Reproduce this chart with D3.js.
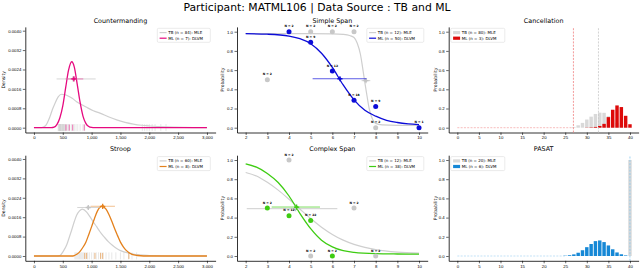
<!DOCTYPE html>
<html>
<head>
<meta charset="utf-8">
<script src="https://cdn.jsdelivr.net/npm/d3@7"></script>
<style>
body { margin: 0; background: #fff; }
svg { font-family: "DejaVu Sans", sans-serif; }
svg text { fill: #000; }
.tick text { font-size: 4.3px; fill: #000; }
.tick line { stroke: #000; stroke-width: 0.6; }
.domain { stroke: #000; stroke-width: 0.8; }
</style>
</head>
<body>
<svg id="chart"></svg>
<script>
// ---- data ----
// Countermanding (density of RT)
const cmTbCurve = [[0,0],[130,0],[200,0.00008],[277,0.00045],[320,0.00075],[364,0.001],[420,0.00127],[480,0.00138],[540,0.00136],[600,0.0013],[670,0.0012],[740,0.00107],[830,0.00095],[914,0.00084],[1030,0.0007],[1145,0.0006],[1290,0.00045],[1434,0.00032],[1580,0.00022],[1722,0.00015],[1870,0.0001],[2011,0.00007],[2300,0.00003],[2600,0.00001],[3000,0]]
const cmMlCurve = [[0,0],[300,0],[350,0.00002],[400,0.00014],[450,0.00041],[500,0.0009],[550,0.00165],[600,0.00237],[655,0.00272],[700,0.0025],[750,0.0018],[800,0.00105],[850,0.00048],[900,0.00018],[950,0.00005],[1000,0.00001],[1050,0],[3000,0]]
const cmTbRug = [420,430,440,445,455,460,470,480,490,500,505,515,525,535,550,560,580,600,620,650,680,700,730,760,800,850,880,1880,1920,1960,2000,2050,2100,2200,2290]
const cmMlRug = [555,612,671,872]
const cmTbSummary = [680, 393, 1070, 0.00201]   // centre, low, high, height
const cmMlSummary = [693, 550, 855, 0.00201]

// Stroop
const stTbCurve = [[0,0],[400,0],[450,0.00002],[510,0.0002],[567,0.00045],[610,0.00075],[653,0.00106],[700,0.00142],[740,0.00168],[790,0.00186],[840,0.00193],[914,0.00181],[970,0.00162],[1030,0.0014],[1090,0.0012],[1145,0.001],[1220,0.00078],[1290,0.00059],[1360,0.00044],[1434,0.00031],[1500,0.00022],[1578,0.00016],[1722,0.00008],[2000,0.00002],[2300,0],[3000,0]]
const stMlCurve = [[0,0],[650,0],[700,0.00002],[750,0.00008],[800,0.00019],[850,0.00036],[900,0.00057],[950,0.00088],[1000,0.00121],[1050,0.00155],[1100,0.00185],[1140,0.002],[1180,0.00205],[1250,0.00193],[1300,0.00171],[1350,0.00143],[1400,0.00112],[1450,0.00084],[1500,0.00057],[1550,0.00038],[1600,0.00023],[1700,0.00007],[1800,0.00002],[1900,0],[3000,0]]
const stTbRug = [710,730,750,770,790,810,830,850,870,900,930,960,1000,1040,1080,1120,1160,1200,1250,1300,1350,1420,1500,1560,1640,1700,1780]
const stMlRug = [880,913,1058,1156,1191,1647]
const stTbSummary = [942, 751, 1145, 0.0020]
const stMlSummary = [1192, 983, 1405, 0.00205]

// Simple Span (probability correct by span length)
const ssTbCurve = [[2,0.98],[3,0.98],[4,0.98],[5,0.98],[6,0.978],[6.5,0.972],[6.8,0.96],[7,0.94],[7.15,0.88],[7.3,0.76],[7.4,0.62],[7.5,0.47],[7.6,0.33],[7.7,0.2],[7.8,0.12],[7.9,0.07],[8,0.045],[8.3,0.03],[9,0.025],[10,0.025]]
const ssMlCurve = [[2,0.979],[3,0.974],[4,0.955],[4.5,0.927],[5,0.875],[5.5,0.776],[6,0.628],[6.5,0.445],[7,0.29],[7.5,0.181],[8,0.12],[8.5,0.077],[9,0.054],[9.5,0.04],[10,0.032]]
const ssTbX = [3, 5, 6, 7, 8]
const ssTbP = [0.5, 1, 1, 1, 0]
const ssTbN = [2, 2, 2, 2, 2]
const ssMlX = [4, 5, 6, 7, 8, 10]
const ssMlP = [1, 0.89, 0.59, 0.285, 0.22, 0]
const ssMlN = [2, 9, 12, 18, 9, 1]
const ssTbSummary = [7.55, 7.35, 7.75, 0.49]
const ssMlSummary = [6.35, 5.09, 7.58, 0.51]

// Complex Span
const csTbCurve = [[2,0.87],[2.5,0.833],[3,0.767],[3.5,0.686],[4,0.591],[4.5,0.49],[5,0.39],[5.5,0.3],[6,0.225],[6.5,0.165],[7,0.121],[7.5,0.089],[8,0.067],[9,0.041],[10,0.029]]
const csMlCurve = [[2,0.96],[2.5,0.925],[3,0.86],[3.5,0.765],[4,0.625],[4.5,0.445],[5,0.285],[5.5,0.165],[6,0.095],[6.5,0.055],[7,0.037],[8,0.024],[9,0.021],[10,0.02]]
const csTbX = [4, 5, 7, 8]
const csTbP = [1, 0, 0.5, 0]
const csTbN = [2, 2, 2, 2]
const csMlX = [3, 4, 5, 6]
const csMlP = [0.5, 0.42, 0.37, 0]
const csMlN = [2, 12, 22, 2]
const csTbSummary = [4.3, 2.05, 6.23, 0.493]
const csMlSummary = [4.35, 3.2, 5.43, 0.51]

// Cancellation (score distribution)
const caTbX = [27,28,29,30,31,32,33,34,35,36,37,38,39,40]
const caTbP = [0.008,0.025,0.05,0.085,0.115,0.143,0.157,0.155,0.12,0.085,0.05,0.025,0.012,0.004]
const caMlX = [30,31,32,33,34,35,36,37,38,39,40]
const caMlP = [0.002,0.004,0.008,0.018,0.04,0.11,0.187,0.232,0.215,0.124,0.036]
const caLines = [26.9, 32.7]

// PASAT
const paTbX = [40]
const paTbP = [1.0]
const paMlX = [25,26,27,28,29,30,31,32,33,34,35,36,37,38,39]
const paMlP = [0.003,0.008,0.017,0.034,0.06,0.092,0.125,0.155,0.162,0.145,0.11,0.07,0.037,0.018,0.006]
const paLines = [40]

const rtTicks = [0, 500, 1000, 1500, 2000, 2500, 3000]
const densTicks = [0, 0.0008, 0.0016, 0.0024, 0.0032, 0.004]
const spanTicks = [2, 3, 4, 5, 6, 7, 8, 9, 10]
const scoreTicks = [0, 5, 10, 15, 20, 25, 30, 35, 40]
const probTicks = [0, 0.2, 0.4, 0.6, 0.8, 1.0]

// ---- layout ----
const width = 640
const height = 268
const rowTop = [26.9, 155.2]
const rowH = 105.6
const grey = '#cfcfcf'

const svg = d3.select('#chart').attr('width', width).attr('height', height)

let xRT = d3.scaleLinear().domain([-150, 3150]).range([25.3, 215.6])
let xSpan = d3.scaleLinear().domain([1.6, 10.4]).range([237, 427.7])
let xScore = d3.scaleLinear().domain([-2, 42]).range([448.7, 638.6])

let probScale = (row) => d3.scaleLinear().domain([-0.05, 1.05]).range([rowTop[row] + rowH, rowTop[row]])
let densScale = (row) => d3.scaleLinear().domain([-0.000198, 0.004156]).range([rowTop[row] + rowH, rowTop[row]])

svg.append('text')
    .attr('x', 317).attr('y', 11)
    .attr('text-anchor', 'middle')
    .style('font-size', '10.8px')
    .text('Participant: MATML106 | Data Source : TB and ML')

let drawFrame = (x, y, xTicks, yTicks, yFmt, title, yLabel, labelX) => {
    let g = svg.append('g')
    g.append('g')
        .attr('transform', 'translate(0,' + y.range()[0] + ')')
        .call(d3.axisBottom(x).tickValues(xTicks).tickSize(2.5).tickSizeOuter(0).tickPadding(1.3))
    g.append('g')
        .attr('transform', 'translate(' + x.range()[0] + ',0)')
        .call(d3.axisLeft(y).tickValues(yTicks).tickFormat(d3.format(yFmt)).tickSize(2.5).tickSizeOuter(0).tickPadding(1.5))
    let midX = (x.range()[0] + x.range()[1]) / 2
    let midY = (y.range()[0] + y.range()[1]) / 2
    g.append('text')
        .attr('x', midX).attr('y', y.range()[1] - 4)
        .attr('text-anchor', 'middle')
        .attr('fill', '#000')
        .style('font-size', '6.4px')
        .text(title)
    g.append('text')
        .attr('transform', 'translate(' + labelX + ',' + midY + ') rotate(-90)')
        .attr('text-anchor', 'middle')
        .attr('dy', '0.35em')
        .style('font-size', '4.6px')
        .text(yLabel)
}

let drawLegend = (x0, y0, w, entries) => {
    let g = svg.append('g')
    g.append('rect')
        .attr('x', x0).attr('y', y0).attr('width', w).attr('height', 14)
        .attr('rx', 1.2)
        .attr('fill', '#fff').attr('fill-opacity', 0.85)
        .attr('stroke', '#d6d6d6').attr('stroke-width', 0.5)
    entries.forEach((e, i) => {
        let cy = y0 + 4.3 + i * 5.6
        if (e.patch) {
            g.append('rect')
                .attr('x', x0 + 2.3).attr('y', cy - 1.6).attr('width', 7).attr('height', 3.2)
                .attr('fill', e.color)
        } else {
            g.append('line')
                .attr('x1', x0 + 2.3).attr('x2', x0 + 9.3)
                .attr('y1', cy).attr('y2', cy)
                .attr('stroke', e.color).attr('stroke-width', 1.2)
        }
        g.append('text')
            .attr('x', x0 + 11).attr('y', cy)
            .attr('dy', '0.35em')
            .style('font-size', '4px')
            .text(e.label)
    })
}

let drawSummary = (x, y, s, color, opacity) => {
    svg.append('line')
        .attr('x1', x(s[1])).attr('x2', x(s[2]))
        .attr('y1', y(s[3])).attr('y2', y(s[3]))
        .attr('stroke', color).attr('stroke-width', 0.9).attr('stroke-opacity', opacity)
    let cx = x(s[0]), cy = y(s[3])
    svg.append('path')
        .attr('d', 'M' + (cx - 2.6) + ',' + cy + 'H' + (cx + 2.6) + 'M' + cx + ',' + (cy - 2.6) + 'V' + (cy + 2.6))
        .attr('stroke', color).attr('stroke-width', 1.3)
    svg.append('circle')
        .attr('cx', cx).attr('cy', cy).attr('r', 1.4)
        .attr('fill', color)
}

let drawDensity = (row, title, tbCurve, mlCurve, color, tbRug, mlRug, tbSum, mlSum, labels) => {
    let y = densScale(row)
    drawFrame(xRT, y, rtTicks, densTicks, '.4f', title, 'Density', 3.8)
    let line = d3.line()
        .x((d) => xRT(d[0]))
        .y((d) => y(d[1]))
        .curve(d3.curveMonotoneX)

    svg.selectAll(null).data(tbRug).enter().append('line')
        .attr('x1', (d) => xRT(d)).attr('x2', (d) => xRT(d))
        .attr('y1', y(0.00015)).attr('y2', y(-0.00014))
        .attr('stroke', '#8a8a8a').attr('stroke-opacity', 0.22).attr('stroke-width', 0.9)

    svg.append('path').datum(tbCurve).attr('d', line)
        .attr('fill', 'none').attr('stroke', grey).attr('stroke-width', 1.2)
    svg.append('path').datum(mlCurve).attr('d', line)
        .attr('fill', 'none').attr('stroke', color).attr('stroke-width', 1.3)

    svg.selectAll(null).data(mlRug).enter().append('line')
        .attr('x1', (d) => xRT(d)).attr('x2', (d) => xRT(d))
        .attr('y1', y(0.00013)).attr('y2', y(-0.00012))
        .attr('stroke', color).attr('stroke-opacity', 0.6).attr('stroke-width', 0.9)

    drawSummary(xRT, y, tbSum, '#c4c4c4', 0.8)
    drawSummary(xRT, y, mlSum, color, 0.55)

    drawLegend(157.3, rowTop[row] + 1.4, 53, [
        { label: labels[0], color: grey },
        { label: labels[1], color: color }
    ])
}

let drawSpan = (row, title, tbCurve, mlCurve, color, tbX, tbP, tbN, mlX, mlP, mlN, tbSum, mlSum, labels) => {
    let y = probScale(row)
    drawFrame(xSpan, y, spanTicks, probTicks, '.1f', title, 'Probability', 222.6)
    let line = d3.line()
        .x((d) => xSpan(d[0]))
        .y((d) => y(d[1]))
        .curve(d3.curveMonotoneX)

    svg.append('path').datum(tbCurve).attr('d', line)
        .attr('fill', 'none').attr('stroke', grey).attr('stroke-width', 1.2)
    svg.append('path').datum(mlCurve).attr('d', line)
        .attr('fill', 'none').attr('stroke', color).attr('stroke-width', 1.3)

    drawSummary(xSpan, y, tbSum, '#c4c4c4', 0.9)
    drawSummary(xSpan, y, mlSum, color, 0.75)

    let pts = tbX.map((v, i) => ({ x: v, p: tbP[i], n: tbN[i], c: '#c8c8c8' }))
        .concat(mlX.map((v, i) => ({ x: v, p: mlP[i], n: mlN[i], c: color })))

    svg.selectAll(null).data(pts).enter().append('circle')
        .attr('cx', (d) => xSpan(d.x)).attr('cy', (d) => y(d.p))
        .attr('r', 2.5)
        .attr('fill', (d) => d.c)

    svg.selectAll(null).data(pts).enter().append('text')
        .attr('x', (d) => xSpan(d.x)).attr('y', (d) => y(d.p) - 4.4)
        .attr('text-anchor', 'middle')
        .style('font-size', '3px').style('font-weight', 'bold')
        .text((d) => 'N = ' + d.n)

    drawLegend(366.8, rowTop[row] + 1.4, 57, [
        { label: labels[0], color: grey },
        { label: labels[1], color: color }
    ])
}

let drawScores = (row, title, tbX, tbP, mlX, mlP, color, lineColor, vlines, vlineColors, baseEnd, labels) => {
    let y = probScale(row)
    drawFrame(xScore, y, scoreTicks, probTicks, '.1f', title, 'Probability', 435)
    let bw = (xScore(1) - xScore(0)) * 0.8

    svg.append('line')
        .attr('x1', xScore(0)).attr('x2', xScore(baseEnd))
        .attr('y1', y(0)).attr('y2', y(0))
        .attr('stroke', lineColor).attr('stroke-width', 0.7).attr('stroke-dasharray', '2,1.3')

    svg.selectAll(null).data(tbX).enter().append('rect')
        .attr('x', (d) => xScore(d) - bw / 2)
        .attr('width', bw)
        .attr('y', (d, i) => y(tbP[i]))
        .attr('height', (d, i) => y(0) - y(tbP[i]))
        .attr('fill', '#d9d9d9')

    svg.selectAll(null).data(mlX).enter().append('rect')
        .attr('x', (d) => xScore(d) - bw / 2)
        .attr('width', bw)
        .attr('y', (d, i) => y(mlP[i]))
        .attr('height', (d, i) => y(0) - y(mlP[i]))
        .attr('fill', color)

    vlines.forEach((v, i) => {
        svg.append('line')
            .attr('x1', xScore(v)).attr('x2', xScore(v))
            .attr('y1', y.range()[0]).attr('y2', y.range()[1])
            .attr('stroke', vlineColors[i]).attr('stroke-width', 0.8).attr('stroke-dasharray', '2,1.3')
    })

    drawLegend(450.8, rowTop[row] + 1.4, 54, [
        { label: labels[0], color: '#d9d9d9', patch: true },
        { label: labels[1], color: color, patch: true }
    ])
}

drawDensity(0, 'Countermanding', cmTbCurve, cmMlCurve, '#e6097f', cmTbRug, cmMlRug, cmTbSummary, cmMlSummary,
    ['TB (n = 84): MLE', 'ML (n = 7): DLVM'])
drawDensity(1, 'Stroop', stTbCurve, stMlCurve, '#e4811c', stTbRug, stMlRug, stTbSummary, stMlSummary,
    ['TB (n = 60): MLE', 'ML (n = 8): DLVM'])

drawSpan(0, 'Simple Span', ssTbCurve, ssMlCurve, '#0c0cd8', ssTbX, ssTbP, ssTbN, ssMlX, ssMlP, ssMlN, ssTbSummary, ssMlSummary,
    ['TB (n = 12): MLE', 'ML (n = 50): DLVM'])
drawSpan(1, 'Complex Span', csTbCurve, csMlCurve, '#3ecc12', csTbX, csTbP, csTbN, csMlX, csMlP, csMlN, csTbSummary, csMlSummary,
    ['TB (n = 12): MLE', 'ML (n = 38): DLVM'])

drawScores(0, 'Cancellation', caTbX, caTbP, caMlX, caMlP, '#dd0a0a', '#f3a0a0', caLines, ['#f08080', '#c8c8c8'], 26.9,
    ['TB (n = 80): MLE', 'ML (n = 3): DLVM'])
drawScores(1, 'PASAT', paTbX, paTbP, paMlX, paMlP, '#1688d6', '#a9d5f3', paLines, ['#86c6ef'], 25,
    ['TB (n = 20): MLE', 'ML (n = 6): DLVM'])
</script>
</body>
</html>
